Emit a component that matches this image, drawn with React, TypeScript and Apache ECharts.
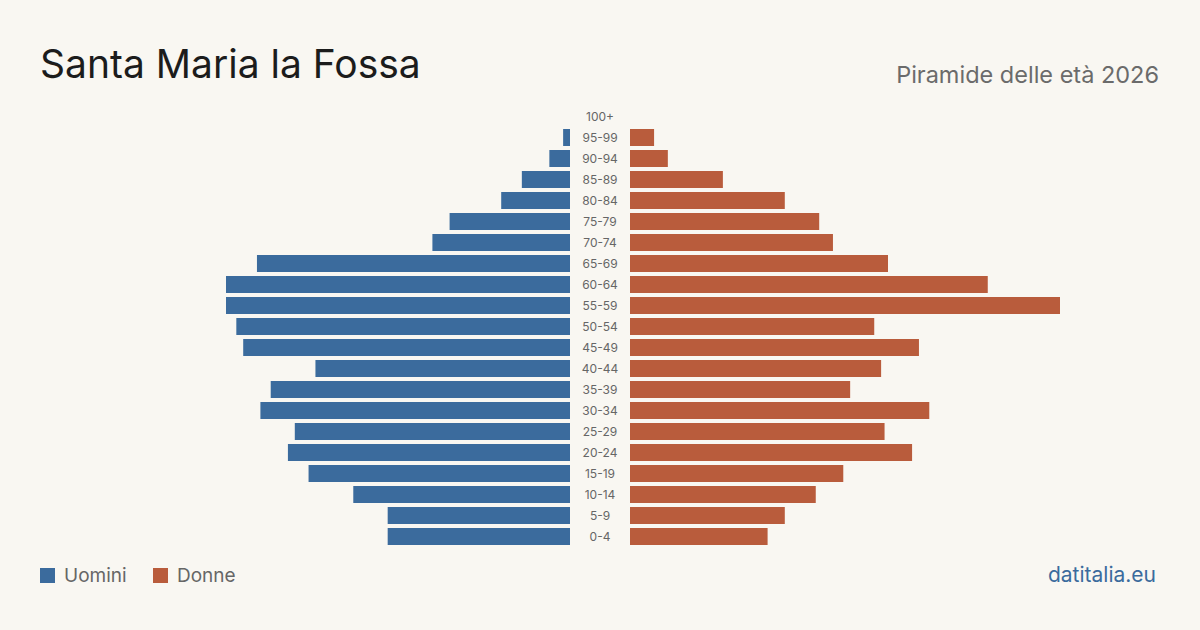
import React, { useEffect, useRef } from "react";
import * as echarts from "echarts";

const ageGroups = ["100+", "95-99", "90-94", "85-89", "80-84", "75-79", "70-74", "65-69", "60-64", "55-59", "50-54", "45-49", "40-44", "35-39", "30-34", "25-29", "20-24", "15-19", "10-14", "5-9", "0-4"];
const men = [0, 2, 6, 14, 20, 35, 40, 91, 100, 100, 97, 95, 74, 87, 90, 80, 82, 76, 63, 53, 53];
const women = [0, 7, 11, 27, 45, 55, 59, 75, 104, 125, 71, 84, 73, 64, 87, 74, 82, 62, 54, 45, 40];

const BLUE = "#3b6b9d";
const ORANGE = "#b95c3c";
const FONT = "Inter, 'Noto Sans', sans-serif";

export default function App() {
  const ref = useRef<HTMLDivElement>(null);
  useEffect(() => {
    if (!ref.current) return;
    const chart = echarts.init(ref.current, undefined, { renderer: "svg" });
    const maxV = Math.max(...men, ...women);
    chart.setOption({
      animation: false,
      backgroundColor: "#f9f7f2",
      textStyle: { fontFamily: FONT },
      grid: [
        { left: 140, width: 430, top: 106, height: 441 },
        { left: 630, width: 430, top: 106, height: 441 },
      ],
      xAxis: [
        { gridIndex: 0, type: "value", min: 0, max: maxV, inverse: true, show: false },
        { gridIndex: 1, type: "value", min: 0, max: maxV, show: false },
      ],
      yAxis: [
        {
          gridIndex: 0,
          type: "category",
          data: ageGroups,
          inverse: true,
          position: "right",
          axisLine: { show: false },
          axisTick: { show: false },
          splitLine: { show: false },
          axisLabel: { margin: 30, align: "center", color: "#666", fontSize: 12, fontFamily: FONT },
        },
        {
          gridIndex: 1,
          type: "category",
          data: ageGroups,
          inverse: true,
          show: false,
        },
      ],
      series: [
        {
          name: "Uomini",
          type: "bar",
          xAxisIndex: 0,
          yAxisIndex: 0,
          data: men,
          barWidth: 17,
          itemStyle: { color: BLUE },
        },
        {
          name: "Donne",
          type: "bar",
          xAxisIndex: 1,
          yAxisIndex: 1,
          data: women,
          barWidth: 17,
          itemStyle: { color: ORANGE },
        },
      ],
      graphic: [
        {
          type: "text",
          left: 40,
          top: 44,
          style: { text: "Santa Maria la Fossa", fontSize: 39, fill: "#1c1c1c", fontFamily: FONT },
        },
        {
          type: "text",
          right: 41,
          top: 62,
          style: { text: "Piramide delle età 2026", fontSize: 23.5, fill: "#6b6b6b", fontFamily: FONT },
        },
        { type: "rect", left: 40, top: 568, shape: { width: 15, height: 15 }, style: { fill: BLUE } },
        {
          type: "text",
          left: 64,
          top: 566,
          style: { text: "Uomini", fontSize: 19, fill: "#666", fontFamily: FONT },
        },
        { type: "rect", left: 153, top: 568, shape: { width: 15, height: 15 }, style: { fill: ORANGE } },
        {
          type: "text",
          left: 177,
          top: 566,
          style: { text: "Donne", fontSize: 19, fill: "#666", fontFamily: FONT },
        },
        {
          type: "text",
          right: 44,
          top: 564,
          style: { text: "datitalia.eu", fontSize: 21, fill: BLUE, fontFamily: FONT },
        },
      ],
    });
    return () => chart.dispose();
  }, []);
  return (
    <div
      ref={ref}
      style={{ position: "fixed", left: 0, top: 0, width: 1200, height: 630, background: "#f9f7f2" }}
    />
  );
}
